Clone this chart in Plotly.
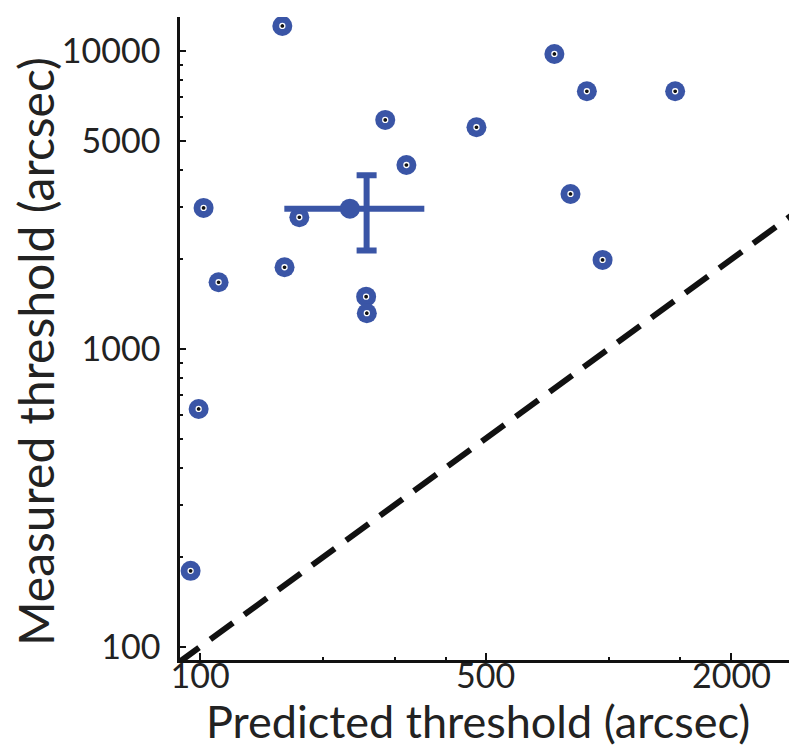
import numpy as np
import plotly.graph_objects as go

# Individual observers: predicted vs measured threshold (arcsec)
predicted = [159, 737, 885, 1456, 284, 475, 320, 807, 102, 175, 967, 111, 161, 255, 256, 99.2, 94.8]
measured = [12130, 9770, 7325, 7325, 5870, 5546, 4143, 3312, 2974, 2767, 1990, 1674, 1880, 1498, 1318, 629, 180]

# Group mean with error bars
mean_x = [232.7]
mean_y = [2957]
mean_x_lo = [160.8]
mean_x_hi = [354.0]
vbar_x = [255.7]
mean_y_lo = [2138]
mean_y_hi = [3828]

x_range = [89.3, 3027]
y_range = [90.4, 13000]

x_ticks = [100, 500, 2000]
x_minor = [200, 300, 400, 1000, 1500, 3000]
y_ticks = [100, 1000, 5000, 10000]
y_minor = [200, 300, 400, 500, 600, 700, 800, 900,
           2000, 3000, 4000, 6000, 7000, 8000, 9000]

x_title = "Predicted threshold (arcsec)"
y_title = "Measured threshold (arcsec)"

blue = "#3A55A6"
font = "Lato, 'Open Sans', sans-serif"

fig = go.Figure()

# identity line
ident = [x_range[0] * 0.98, x_range[1] * 1.02]
fig.add_trace(go.Scatter(x=ident, y=ident, mode="lines",
                         line=dict(color="#111111", width=6, dash="28px,14px"),
                         hoverinfo="skip", showlegend=False))

fig.add_trace(go.Scatter(x=predicted, y=measured, mode="markers",
                         marker=dict(size=20, color=blue, line=dict(width=0)),
                         showlegend=False))
fig.add_trace(go.Scatter(x=predicted, y=measured, mode="markers",
                         marker=dict(size=5, color="#111111", line=dict(width=1.3, color="white")),
                         showlegend=False))

# horizontal error bar + mean marker
fig.add_trace(go.Scatter(
    x=mean_x, y=mean_y, mode="markers",
    marker=dict(size=20, color=blue),
    error_x=dict(type="data", symmetric=False,
                 array=[mean_x_hi[0] - mean_x[0]],
                 arrayminus=[mean_x[0] - mean_x_lo[0]],
                 color=blue, thickness=6, width=0),
    showlegend=False))

# vertical error bar
fig.add_trace(go.Scatter(
    x=vbar_x, y=mean_y, mode="markers",
    marker=dict(size=1, color="rgba(0,0,0,0)"),
    error_y=dict(type="data", symmetric=False,
                 array=[mean_y_hi[0] - mean_y[0]],
                 arrayminus=[mean_y[0] - mean_y_lo[0]],
                 color=blue, thickness=6, width=10),
    showlegend=False))

fig.update_xaxes(type="log", range=[np.log10(x_range[0]), np.log10(x_range[1])],
                 automargin=False,
                 tickvals=x_ticks, ticktext=[str(v) for v in x_ticks],
                 ticks="inside", ticklen=7, tickwidth=2, tickcolor="#111111",
                 minor=dict(tickvals=x_minor, ticks="inside", ticklen=3, tickwidth=1.5,
                            tickcolor="#111111"),
                 showline=True, linewidth=2.5, linecolor="#111111",
                 showgrid=False, zeroline=False,
                 tickfont=dict(family=font, size=34, color="#222222"),
                 ticklabelstandoff=-16)
fig.update_yaxes(type="log", range=[np.log10(y_range[0]), np.log10(y_range[1])],
                 automargin=False,
                 tickvals=y_ticks, ticktext=[str(v) for v in y_ticks],
                 ticks="inside", ticklen=6, tickwidth=2, tickcolor="#111111",
                 minor=dict(tickvals=y_minor, ticks="inside", ticklen=3, tickwidth=1.5,
                            tickcolor="#111111"),
                 showline=True, linewidth=2.5, linecolor="#111111",
                 showgrid=False, zeroline=False,
                 tickfont=dict(family=font, size=34, color="#222222"),
                 ticklabelstandoff=10)

fig.add_annotation(text=x_title, xref="paper", yref="paper",
                   x=(470 - 172) / 625, y=-(713 - 652) / 643,
                   xanchor="center", yanchor="middle", showarrow=False,
                   font=dict(family=font, size=45, color="#222222"))
fig.add_annotation(text=y_title, xref="paper", yref="paper",
                   x=-(172 - 28) / 625, y=(652 - 344) / 643,
                   xanchor="center", yanchor="middle", showarrow=False, textangle=-90,
                   font=dict(family=font, size=48, color="#222222"))

fig.update_layout(width=797, height=750,
                  margin=dict(l=172, r=0, t=9, b=98, autoexpand=False),
                  paper_bgcolor="white", plot_bgcolor="white",
                  showlegend=False)

fig.write_html("out.html")
